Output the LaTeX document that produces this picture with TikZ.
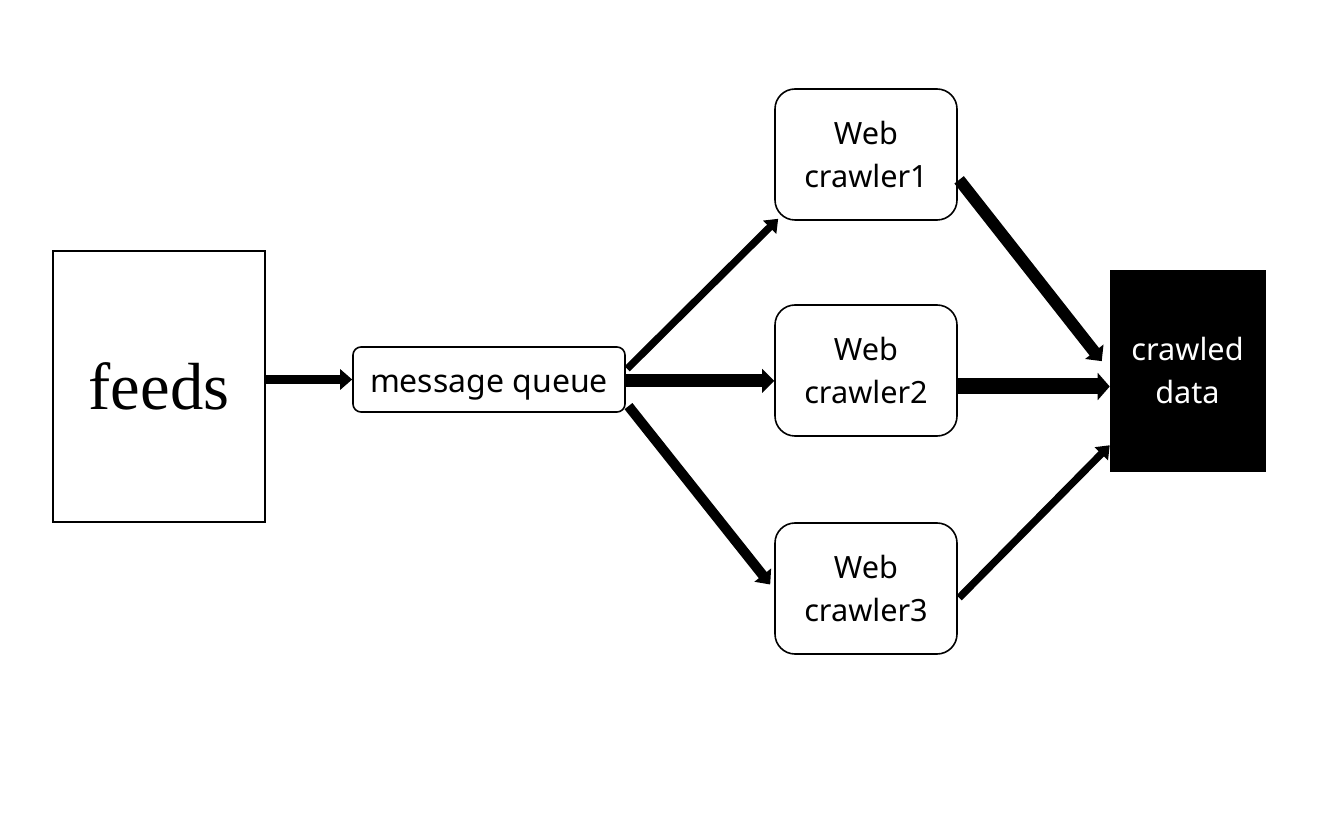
\documentclass[tikz,border=0pt]{standalone}
\usepackage{fontspec}
\setmainfont{Noto Sans}
\newfontfamily\feedsfont{Liberation Serif}
\usetikzlibrary{arrows.meta}
\begin{document}
\begin{tikzpicture}[x=0.75pt,y=-0.75pt,
  plainbox/.style={draw=black,line width=1.5pt,rectangle,inner sep=0pt},
  roundbox/.style={draw=black,line width=1.2pt,rectangle,rounded corners=15pt,
     minimum width=136.5pt,minimum height=98.25pt,align=center,inner sep=0pt,
     font=\fontsize{23}{32}\selectfont},
  conn/.style={line width=#1,-{Triangle[length=9pt,width=8pt 1]}}
]
\useasboundingbox (0,0) rectangle (1340,816);
\node[plainbox,minimum width=159pt,minimum height=203.25pt,font=\feedsfont\fontsize{50}{60}\selectfont] (feeds) at (159,386.5) {feeds};
\node[draw=black,line width=1.2pt,rounded corners=6pt,minimum width=204pt,minimum height=48.75pt,inner sep=0pt,text height=20pt,text depth=0pt,font=\fontsize{24}{28}\selectfont] (mq) at (489,379.5) {message queue};
\node[roundbox] (wc1) at (866,154.5) {Web\\crawler1};
\node[roundbox] (wc2) at (866,370.5) {Web\\crawler2};
\node[roundbox] (wc3) at (866,588.5) {Web\\crawler3};
\node[fill=black,draw=black,minimum width=116.25pt,minimum height=150.75pt,inner sep=0pt,align=center,text=white,font=\fontsize{23}{32}\selectfont] (cd) at (1187.5,370.5) {crawled\\data};

\draw[conn=7pt] (mq.west -| feeds.east) -- (mq.west);
\draw[conn=5.5pt] ([xshift=1pt,yshift=8pt]mq.east) -- ([xshift=3pt,yshift=1.5pt]wc1.south west);
\draw[conn=9.5pt] ([yshift=-1pt]mq.east) -- ([yshift=-1pt]mq.east -| wc2.west);
\draw[conn=7.5pt] ([xshift=2pt,yshift=5pt]mq.south east) -- ([xshift=-3pt,yshift=3pt]wc3.west);
\draw[conn=9pt] ([xshift=1pt,yshift=-19pt]wc1.east) -- ([xshift=-6pt,yshift=7pt]cd.west);
\draw[conn=12pt] ([yshift=-12pt]wc2.east) -- ([yshift=-12pt]wc2.east -| cd.west);
\draw[conn=5.5pt] ([xshift=1pt,yshift=-7pt]wc3.east) -- ([yshift=19.5pt]cd.south west);
\end{tikzpicture}
\end{document}
